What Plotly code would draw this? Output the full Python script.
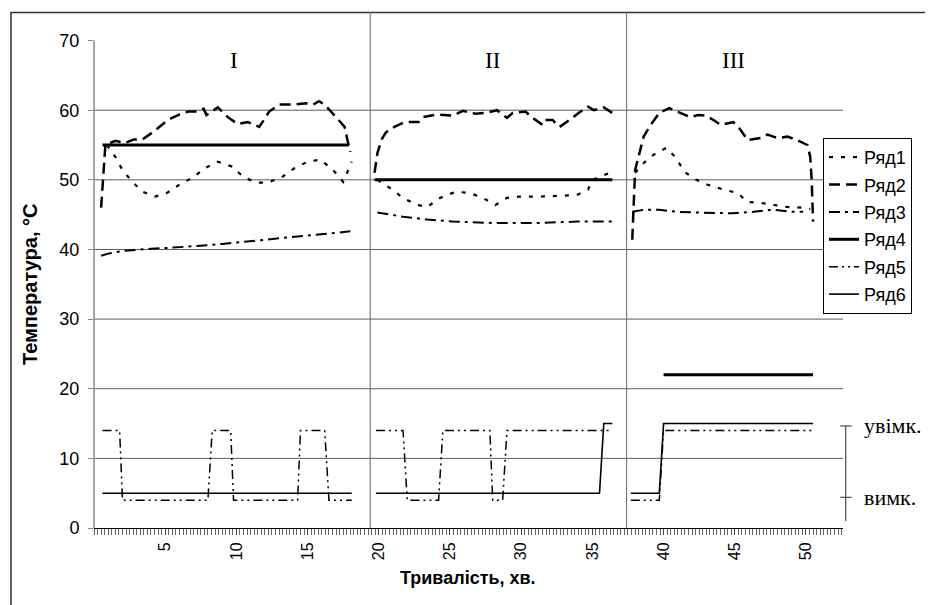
import plotly.graph_objects as go

# ---------------- data (time in minutes, temperature in °C) ----------------
R1_T = [0.9, 1.5, 2.0, 2.7, 3.4, 4.3, 5.1, 6.0, 7.0, 7.8, 8.7, 9.7, 10.5, 11.4, 12.2, 13.2, 14.1, 15.0, 15.9, 16.8, 17.5, 18.1,
        None,
        19.9, 20.8, 21.7, 22.7, 23.4, 24.3, 25.4, 26.4, 27.3, 28.2, 29.0, 29.9, 31.3, 32.7, 33.9, 34.7, 35.0, 35.5, 36.1,
        None,
        38.0, 38.6, 39.3, 40.2, 40.8, 41.5, 42.3, 43.1, 44.2, 45.2, 45.9, 46.8, 47.7, 48.7, 49.7, 50.3]
R1_V = [55.0, 53.3, 51.4, 49.7, 48.3, 47.6, 48.1, 49.3, 50.4, 51.7, 52.6, 51.9, 50.4, 49.6, 49.6, 50.4, 51.7, 52.6, 52.9, 51.4, 49.7, 52.6,
        None,
        50.0, 48.8, 47.4, 46.4, 46.1, 47.4, 48.3, 48.1, 47.4, 46.4, 47.4, 47.6, 47.6, 47.7, 47.8, 48.6, 50.0, 50.4, 50.9,
        None,
        51.0, 52.4, 53.6, 54.6, 53.3, 51.1, 50.0, 49.3, 48.6, 48.1, 46.8, 46.7, 46.4, 46.1, 46.0, 45.8]

R2_T = [0.5, 0.8, 1.5, 2.2, 2.8, 3.4, 4.1, 4.7, 5.2, 5.9, 6.6, 7.3, 7.7, 7.9, 8.7, 9.4, 10.1, 10.8, 11.6, 11.9, 12.3, 13.0,
        13.9, 14.9, 15.4, 15.8, 16.2, 17.0, 17.6, 17.8, 18.0,
        None,
        19.7, 19.9, 20.2, 20.5, 21.1, 21.8, 22.8, 23.1, 24.1, 25.2, 25.9, 26.8, 27.5, 28.3, 29.0, 29.4, 30.3, 30.8, 31.5,
        31.7, 32.2, 32.7, 33.4, 34.1, 34.7, 35.1, 35.8, 36.4,
        None,
        37.8, 38.0, 38.6, 39.0, 39.7, 40.4, 41.3, 41.9, 42.4, 43.0, 43.5, 44.0, 44.9, 45.4, 45.9, 46.8, 47.3, 48.0, 48.7,
        49.4, 50.1, 50.3, 50.4, 50.5]
R2_V = [46.0, 55.0, 55.6, 55.3, 55.8, 55.8, 56.8, 57.8, 58.6, 59.3, 59.8, 59.8, 60.2, 59.3, 60.4, 59.0, 58.0, 58.3, 57.6, 58.5,
        59.8, 60.8, 60.8, 61.0, 60.8, 61.3, 60.8, 59.0, 57.6, 55.7, 54.0,
        None,
        51.0, 53.8, 55.8, 56.8, 57.6, 58.3, 58.3, 59.0, 59.4, 59.2, 59.9, 59.5, 59.6, 60.0, 58.9, 59.6, 59.8, 58.9, 57.9,
        58.6, 58.6, 57.6, 58.6, 59.7, 60.5, 60.0, 60.4, 59.6,
        None,
        41.4, 51.4, 56.2, 57.6, 59.6, 60.3, 59.5, 59.0, 59.3, 59.2, 58.6, 57.9, 58.3, 57.2, 55.7, 56.0, 56.5, 56.0, 56.2,
        55.7, 55.0, 53.3, 50.0, 44.0]

R3_T = [0.5, 1.0, 2.0, 3.0, 4.0, 5.0, 6.0, 7.0, 8.0, 9.0, 10.0, 11.0, 12.0, 13.0, 14.0, 15.0, 16.0, 17.0, 18.0,
        None,
        19.9, 21.7, 23.4, 25.2, 28.0, 31.1, 33.9, 36.4,
        None,
        37.8, 38.6, 39.7, 41.0, 42.4, 43.7, 44.9, 46.3, 47.7, 49.1, 49.8]
R3_V = [39.1, 39.4, 39.8, 40.0, 40.1, 40.2, 40.3, 40.5, 40.6, 40.8, 41.0, 41.1, 41.3, 41.5, 41.7, 41.9, 42.1, 42.3, 42.6,
        None,
        45.3, 44.7, 44.3, 44.0, 43.8, 43.8, 44.0, 44.0,
        None,
        45.4, 45.7, 45.7, 45.4, 45.3, 45.2, 45.2, 45.4, 45.7, 45.4, 45.4]

R4_T = [0.6, 17.9, None, 19.7, 36.4, None, 40.0, 50.5]
R4_V = [55.0, 55.0, None, 50.0, 50.0, None, 22.0, 22.0]

R5_T = [0.6, 1.8, 2.0, 8.0, 8.3, 9.6, 9.8, 14.3, 14.5, 16.2, 16.5, 18.1,
        None,
        19.8, 21.7, 22.0, 24.2, 24.5, 27.8, 28.0, 28.7, 29.0, 36.4,
        None,
        37.7, 39.7, 40.0, 50.5]
R5_V = [14, 14, 4, 4, 14, 14, 4, 4, 14, 14, 4, 4,
        None,
        14, 14, 4, 4, 14, 14, 4, 4, 14, 14,
        None,
        4, 4, 14, 14]

R6_T = [0.6, 18.1, None, 19.8, 35.5, 35.8, 36.4, None, 37.7, 39.7, 40.0, 50.5]
R6_V = [5, 5, None, 5, 5, 15, 15, None, 5, 5, 15, 15]

SERIES_NAMES = ["Ряд1", "Ряд2", "Ряд3", "Ряд4", "Ряд5", "Ряд6"]
Y_TICKS = [0, 10, 20, 30, 40, 50, 60, 70]
GRID_VALUES = [10, 20, 30, 40, 50, 60]
X_TICKS = [5, 10, 15, 20, 25, 30, 35, 40, 45, 50]
STAGE_LABELS = ["I", "II", "III"]
STAGE_LABEL_X = [9.8, 27.95, 44.9]
STAGE_BOUNDS = [19.4, 37.4]
ON_VALUE, OFF_VALUE = 14.65, 4.4
STATE_LABELS = ["увімк.", "вимк."]

# ---------------- figure ----------------
series = [
    (R1_T, R1_V, dict(color="black", width=2.2, dash="4px,8px")),
    (R2_T, R2_V, dict(color="black", width=2.5, dash="11px,6px")),
    (R3_T, R3_V, dict(color="black", width=2.0, dash="11px,5px,3px,5px")),
    (R4_T, R4_V, dict(color="black", width=3.0)),
    (R5_T, R5_V, dict(color="black", width=1.5, dash="9px,4px,2px,4px,2px,4px")),
    (R6_T, R6_V, dict(color="black", width=1.6)),
]

fig = go.Figure()
for name, (t, v, ln) in zip(SERIES_NAMES, series):
    fig.add_trace(go.Scatter(x=t, y=v, name=name, mode="lines", line=ln,
                             connectgaps=False, legendgroup=name))

shapes = []
for g in GRID_VALUES:
    shapes.append(dict(type="line", xref="paper", yref="y", x0=0, x1=1, y0=g, y1=g,
                       line=dict(color="#5a5a5a", width=1), layer="below"))
# y-axis line (0..70)
shapes.append(dict(type="line", xref="paper", yref="y", x0=0, x1=0, y0=0, y1=70,
                   line=dict(color="#8a8a8a", width=1.5)))
# stage dividers
for b in STAGE_BOUNDS:
    shapes.append(dict(type="line", xref="x", yref="y", x0=b, x1=b, y0=0, y1=74.1,
                       line=dict(color="#7a7a7a", width=1.2), layer="below"))
# outer chart border (left and top visible)
shapes.append(dict(type="rect", xref="paper", yref="paper", x0=-0.1108, x1=1.25, y0=-0.25, y1=0.999,
                   line=dict(color="#333333", width=1.5), layer="below"))
# on/off bracket
shapes.append(dict(type="line", xref="paper", yref="y", x0=1.0036, x1=1.0036, y0=1.0, y1=ON_VALUE,
                   line=dict(color="#555555", width=1.3)))
for yv in (ON_VALUE, OFF_VALUE):
    shapes.append(dict(type="line", xref="paper", yref="y", x0=0.9963, x1=1.0115, y0=yv, y1=yv,
                       line=dict(color="#555555", width=1.3)))

annotations = []
for lab, xv in zip(STAGE_LABELS, STAGE_LABEL_X):
    annotations.append(dict(x=xv, y=67.1, xref="x", yref="y", text=lab, showarrow=False,
                            xanchor="center", yanchor="middle",
                            font=dict(family="Liberation Serif", size=23, color="black")))
for lab, yv in zip(STATE_LABELS, (ON_VALUE, OFF_VALUE)):
    annotations.append(dict(x=1.0254, y=yv, xref="paper", yref="y", text=lab, showarrow=False,
                            xanchor="left", yanchor="middle",
                            font=dict(family="Liberation Serif", size=22, color="black")))
annotations.append(dict(x=-0.0854, y=34.9, xref="paper", yref="y", text="<b>Температура, °С</b>",
                        textangle=-90, showarrow=False, xanchor="center", yanchor="middle",
                        font=dict(family="Liberation Sans", size=20, color="black")))
annotations.append(dict(x=0.4993, y=-0.0969, xref="paper", yref="paper", text="<b>Тривалість, хв.</b>",
                        showarrow=False, xanchor="center", yanchor="middle",
                        font=dict(family="Liberation Sans", size=18, color="black")))

fig.update_layout(
    width=925, height=597,
    margin=dict(l=86, r=90, t=4, b=77),
    paper_bgcolor="white", plot_bgcolor="white",
    font=dict(family="Liberation Sans", size=16, color="black"),
    showlegend=True,
    legend=dict(x=0.9733, y=0.756, xanchor="left", yanchor="top",
                bgcolor="white", bordercolor="black", borderwidth=1,
                font=dict(family="Liberation Sans", size=18, color="black"),
                tracegroupgap=1, itemwidth=30),
    shapes=shapes, annotations=annotations,
    xaxis=dict(range=[0, 52.6], showgrid=False, zeroline=False,
               showline=True, linecolor="black", linewidth=1,
               tickmode="array", tickvals=X_TICKS, ticktext=[str(v) for v in X_TICKS],
               tickangle=-90, ticks="outside", ticklen=6, tickcolor="#444",
               tickfont=dict(size=16), ticklabelstandoff=1,
               minor=dict(dtick=0.25, tick0=0, ticks="outside", ticklen=6, tickcolor="#666")),
    yaxis=dict(range=[0, 74.1], showgrid=False, zeroline=False, showline=False,
               tickmode="array", tickvals=Y_TICKS, ticks="outside", ticklen=5,
               tickcolor="#8a8a8a", tickfont=dict(size=18), ticklabelstandoff=5),
)

fig.write_html("out.html")
